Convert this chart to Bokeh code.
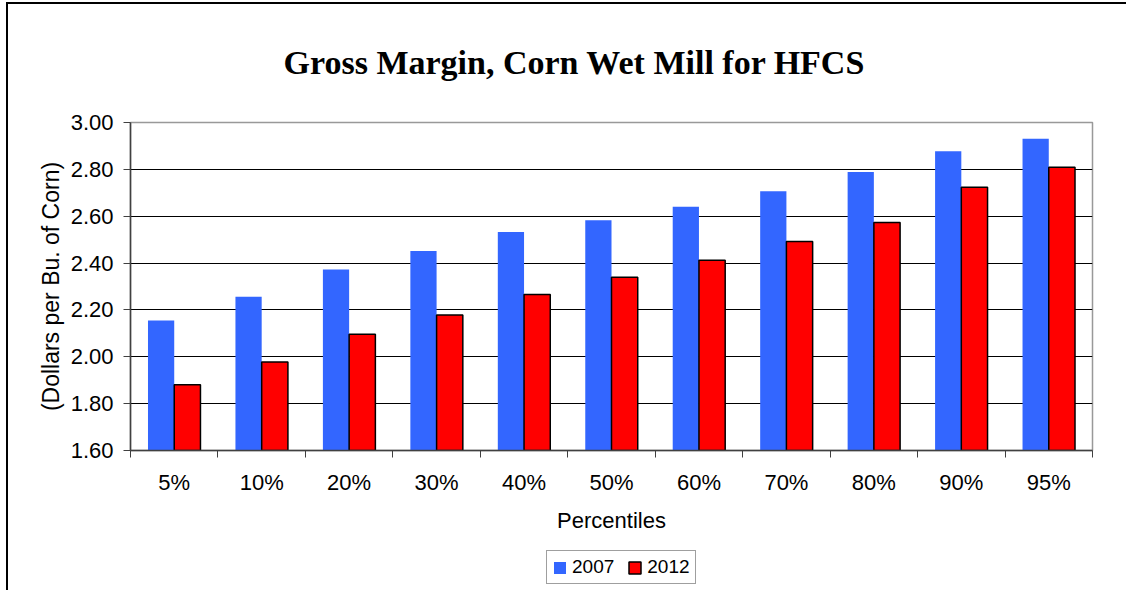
from bokeh.plotting import figure
from bokeh.layouts import column
from bokeh.models import (ColumnDataSource, FixedTicker, NumeralTickFormatter, Legend,
                          LegendItem, Range1d, InlineStyleSheet)
from bokeh.transform import dodge
from bokeh.embed import file_html
from bokeh.resources import INLINE

# ---- data ----
categories = ["5%", "10%", "20%", "30%", "40%", "50%", "60%", "70%", "80%", "90%", "95%"]
values_2007 = [2.155, 2.256, 2.373, 2.452, 2.533, 2.583, 2.640, 2.707, 2.789, 2.877, 2.931]
values_2012 = [1.881, 1.978, 2.096, 2.178, 2.266, 2.340, 2.412, 2.492, 2.573, 2.724, 2.809]
y_ticks = [1.6, 1.8, 2.0, 2.2, 2.4, 2.6, 2.8, 3.0]
series_names = ["2007", "2012"]
title_text = "Gross Margin, Corn Wet Mill for HFCS"
x_label = "Percentiles"
y_label = "(Dollars per Bu. of Corn)"

SANS = "Liberation Sans"
SERIF = "Liberation Serif"
BLUE = "#3366FF"
RED = "#FF0000"

pos = [i + 0.5 for i in range(len(categories))]
bounds = [float(i) for i in range(len(categories) + 1)]
src = ColumnDataSource(dict(x=pos, v07=values_2007, v12=values_2012))

p = figure(width=1126, height=550,
           x_range=Range1d(0, len(categories)),
           y_range=Range1d(y_ticks[0], y_ticks[-1]),
           output_backend="svg", toolbar_location=None,
           min_border_left=130, min_border_right=34,
           min_border_top=122, min_border_bottom=100)
p.background_fill_color = "white"
p.border_fill_alpha = 0
p.outline_line_color = "#999999"
p.outline_line_width = 1.5

# title
p.title.text = title_text
p.title.text_font = SERIF
p.title.text_font_size = "34px"
p.title.text_font_style = "bold"
p.title.text_color = "black"
p.title.align = "left"
p.title.offset = 153
p.title.standoff = 83

# bars
base = y_ticks[0]
r1 = p.vbar(x=dodge("x", -0.15), top="v07", bottom=base, width=0.3, source=src,
            fill_color=BLUE, line_color=None)
r2 = p.vbar(x=dodge("x", 0.15), top="v12", bottom=base, width=0.3, source=src,
            fill_color=RED, line_color="black", line_width=1.5)

# grid
p.xgrid.grid_line_color = None
p.ygrid.ticker = FixedTicker(ticks=y_ticks)
p.ygrid.grid_line_color = "black"
p.ygrid.grid_line_width = 1

# y axis
ya = p.yaxis[0]
ya.ticker = FixedTicker(ticks=y_ticks)
ya.formatter = NumeralTickFormatter(format="0.00")
ya.major_tick_out = 7
ya.major_tick_in = 0
ya.minor_tick_line_color = None
ya.axis_line_color = "#404040"
ya.axis_line_width = 1.5
ya.major_tick_line_color = "#404040"
ya.major_label_text_font = SANS
ya.major_label_text_font_size = "22px"
ya.major_label_text_color = "black"
ya.major_label_standoff = 10
ya.axis_label = y_label
ya.axis_label_text_font = SANS
ya.axis_label_text_font_size = "23px"
ya.axis_label_text_font_style = "normal"
ya.axis_label_text_color = "black"
ya.axis_label_standoff = 4

# x axis
xa = p.xaxis[0]
xa.ticker = FixedTicker(ticks=pos, minor_ticks=bounds)
xa.major_label_overrides = {x: c for x, c in zip(pos, categories)}
xa.major_tick_out = 0
xa.major_tick_in = 0
xa.minor_tick_out = 7
xa.minor_tick_in = 0
xa.minor_tick_line_color = "#404040"
xa.axis_line_color = "#404040"
xa.axis_line_width = 1.5
xa.major_label_text_font = SANS
xa.major_label_text_font_size = "22px"
xa.major_label_text_color = "black"
xa.major_label_standoff = 12
xa.axis_label = x_label
xa.axis_label_text_font = SANS
xa.axis_label_text_font_size = "22px"
xa.axis_label_text_font_style = "normal"
xa.axis_label_text_color = "black"
xa.axis_label_standoff = 10

# ---- legend strip below the chart (its frame is aligned with the chart's) ----
pl = figure(width=1126, height=40, x_range=p.x_range, y_range=p.y_range,
            output_backend="svg", toolbar_location=None,
            x_axis_location=None, y_axis_location=None, min_border=0)
pl.grid.grid_line_color = None
pl.outline_line_color = None
pl.background_fill_alpha = 0
pl.border_fill_alpha = 0
# hidden copies of the bars: only their legend swatches are drawn
g1 = pl.vbar(x="x", top="v07", bottom=base, width=0.3, source=src,
             fill_color=BLUE, line_color=None, visible=False)
g2 = pl.vbar(x="x", top="v12", bottom=base, width=0.3, source=src,
             fill_color=RED, line_color="black", line_width=1.5, visible=False)
legend = Legend(items=[LegendItem(label=series_names[0], renderers=[g1]),
                       LegendItem(label=series_names[1], renderers=[g2])],
                orientation="horizontal", location=(416, 6))
legend.label_text_font = SANS
legend.label_text_font_size = "19px"
legend.label_text_color = "black"
legend.glyph_width = 15
legend.glyph_height = 15
legend.label_standoff = 5
legend.spacing = 13
legend.padding = 5
legend.margin = 0
legend.border_line_color = "#404040"
legend.border_line_width = 1.5
legend.background_fill_color = "white"
legend.background_fill_alpha = 1
legend.inactive_fill_alpha = 0
pl.add_layout(legend)

layout = column(p, pl, spacing=0)
# chart-area border: left and top edges (right and bottom lie outside the view)
layout.stylesheets = [InlineStyleSheet(css=(
    ":host { background-color: white;"
    " background-image: linear-gradient(#000, #000), linear-gradient(#000, #000);"
    " background-size: 2px 1000px, 1300px 2px;"
    " background-position: 6px 2px, 6px 2px;"
    " background-repeat: no-repeat, no-repeat; }"))]
open("out.html", "w").write(file_html(layout, INLINE))
